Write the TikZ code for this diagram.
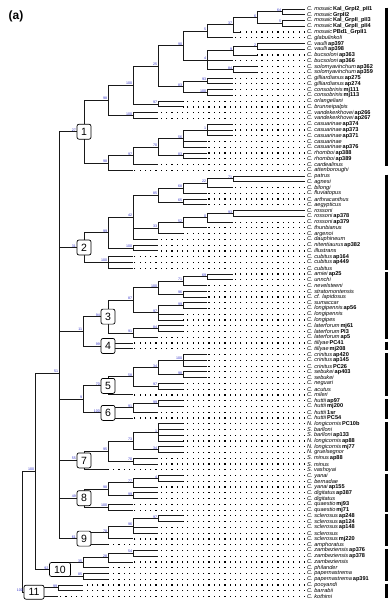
\documentclass[tikz,border=0pt]{standalone}
\usepackage{fontspec}
\setmainfont{Liberation Sans}
\usetikzlibrary{calc}
\definecolor{bsblue}{RGB}{50,50,200}
\newcommand\nd[4]{\coordinate (#1) at (#2,#3); \node[bs] (lab#1) at (#1) {#4};}
\begin{document}
\begin{tikzpicture}[x=1pt,y=-1pt,
  edge/.style={line width=0.9pt,black!90},
  dotl/.style={line width=1.2pt,dash pattern=on 1.2pt off 4.1pt},
  leaflab/.style={anchor=west,inner sep=0pt,font=\fontsize{5.6}{6}\selectfont},
  bs/.style={anchor=south east,inner sep=0.2pt,xshift=-0.4pt,text=bsblue,font=\fontsize{3.6}{4}\selectfont},
  cbox/.style={draw,line width=0.7pt,rounded corners=2pt,fill=white,minimum width=14pt,minimum height=15pt,inner sep=0pt,font=\fontsize{10.5}{12}\selectfont},
  wbox/.style={cbox,minimum width=21pt,minimum height=14pt},
  cbar/.style={line width=2.6pt}]
\useasboundingbox (0,0) rectangle (389,608);
\node[font=\bfseries\fontsize{12}{14}\selectfont,inner sep=0pt] (title) at (16,16) {(a)};
% ---- internal nodes: clade 1
\nd{n1a}{282}{11.9}{64}\nd{n1b}{282}{23.4}{5}\nd{n1c}{257}{17.6}{6}
\nd{n1d}{233}{24.8}{37}\nd{n1e}{207}{31.3}{5}\nd{n1f}{257}{46.4}{2}
\nd{n1g}{233}{50.8}{9}\nd{n1h}{207}{60.1}{4}\nd{n1i}{233}{69.5}{84}
\nd{n1k}{183}{45.7}{90}\nd{n1l}{207}{81.0}{93}\nd{n1m}{207}{92.5}{100}
\nd{n1n}{183}{86.8}{83}\nd{n1o}{158}{66.2}{25}\nd{n1p}{158}{104.0}{97}
\nd{n1q}{133}{85.1}{100}\nd{n1r}{133}{115.6}{100}\nd{n1s}{108}{100.3}{98}
\nd{n1t}{207}{130.0}{1}\nd{n1u}{183}{138.6}{56}\nd{n1v}{183}{155.9}{83}
\nd{n1w}{158}{147.2}{70}\nd{n1x}{133}{155.9}{97}\nd{n1y}{108}{163.1}{98}
% clade 2
\nd{n2a}{233}{178.9}{71}\nd{n2b}{207}{183.2}{22}\nd{n2c}{183}{188.3}{68}
\nd{n2d}{183}{202.0}{65}\nd{n2e}{158}{195.1}{85}\nd{n2f}{233}{213.5}{93}
\nd{n2g}{207}{217.8}{0}\nd{n2h}{183}{222.9}{52}\nd{n2i}{158}{228.2}{33}
\nd{n2j}{133}{217.2}{42}\nd{n2k}{133}{248.0}{100}\nd{n2l}{108}{232.6}{99}
\nd{n2m}{108}{262.4}{100}
% clade 3
\nd{n3a}{207}{276.8}{69}\nd{n3b}{183}{281.2}{71}\nd{n3c}{183}{294.1}{96}
\nd{n3d}{158}{287.6}{100}\nd{n3e}{183}{305.6}{99}\nd{n3f}{158}{312.8}{97}
\nd{n3g}{133}{300.2}{87}\nd{n3h}{158}{328.7}{84}\nd{n3i}{133}{333.0}{91}
\nd{n34}{83}{331.3}{11}
% clade 5, 6
\nd{n5a}{183}{360.4}{100}\nd{n5b}{183}{374.8}{98}\nd{n5c}{158}{367.6}{34}
\nd{n5d}{158}{386.3}{97}\nd{n5e}{133}{376.9}{58}
\nd{n6a}{158}{403.6}{99}\nd{n6b}{133}{407.9}{91}\nd{n56}{83}{399.4}{9}
% clade 7, 8, 9
\nd{n7a}{158}{432.4}{1}\nd{n7b}{158}{449.6}{34}\nd{n7c}{133}{441.0}{73}
\nd{n7d}{133}{461.2}{70}\nd{n7e}{108}{451.1}{95}
\nd{n8a}{158}{478.4}{4}\nd{n8b}{133}{482.8}{77}\nd{n8c}{133}{495.7}{99}
\nd{n8d}{108}{489.2}{98}\nd{n8e}{108}{507.2}{100}
\nd{n9a}{158}{518.8}{97}\nd{n9b}{133}{526.0}{96}\nd{n9c}{108}{532.5}{78}
% clade 10, 11, backbone
\nd{n10a}{133}{553.3}{54}\nd{n10b}{108}{557.6}{28}\nd{n10c}{83}{562.7}{35}
\nd{n10d}{83}{576.4}{85}\nd{n11a}{58}{587.9}{99}
\nd{bb}{59}{373.0}{51}\nd{nA}{35}{471.0}{100}
\coordinate (root) at (22,531.6);
% box positions
\coordinate (b1) at (84,131.7); \coordinate (b2) at (84,247.5);
\coordinate (b3) at (108,316.6); \coordinate (b4) at (108,346.0);
\coordinate (b5) at (108,385.9); \coordinate (b6) at (108,412.9);
\coordinate (b7) at (84,460.4); \coordinate (b8) at (84,498.2);
\coordinate (b9) at (84,538.6); \coordinate (b10) at (60,569.5);
\coordinate (b11) at (34,592.2);
% ---- leaves
\foreach \i/\tx/\pa/\nm/\cd in {
1/305/n1a/C. mosaic/Kal\_GrpI2\_pII1,
2/305/n1a/C. mosaic/GrpII2,
3/305/n1b/C. mosaic/Kal\_GrpII\_pII3,
4/305/n1b/C. mosaic/Kal\_GrpII\_pII4,
5/240/n1d/C. mosaic/PBd1\_GrpII1,
6/233/n1e/C. glabulinkoli/{},
7/305/n1f/C. vaulli/ap397,
8/305/n1f/C. vaulli/ap398,
9/257/n1g/C. bucsoloni/ap363,
10/233/n1h/C. bucsoloni/ap366,
11/257/n1i/C. solomyavinchum/ap362,
12/257/n1i/C. solomyavinchum/ap359,
13/233/n1l/C. gilliardianus/ap275,
14/233/n1l/C. gilliardianus/ap274,
15/233/n1m/C. consobrinis/mj111,
16/233/n1m/C. consobrinis/mj113,
17/183/n1p/C. orlangeliani/{},
18/183/n1p/C. brunneipalpis/{},
19/158/n1r/C. vandekerkhovei/ap266,
20/158/n1r/C. vandekerkhovei/ap267,
21/233/n1t/C. casuarinae/ap374,
22/233/n1t/C. casuarinae/ap373,
23/233/n1t/C. casuarinae/ap371,
24/207/n1u/C. casuarinae/{},
25/207/n1u/C. casuarinae/ap376,
26/207/n1v/C. rhomboi/ap388,
27/207/n1v/C. rhomboi/ap389,
28/158/n1x/C. cardealinus/{},
29/133/n1y/C. attenboroughi/{},
30/305/n2a/C. patrus/{},
31/305/n2a/C. agnesi/{},
32/233/n2b/C. bilongi/{},
33/207/n2c/C. fluviatopus/{},
34/207/n2d/C. arthracanthus/{},
35/207/n2d/C. aegypticus/{},
36/305/n2f/C. rossoni/{},
37/305/n2f/C. rossoni/ap378,
38/233/n2g/C. rossoni/ap379,
39/207/n2h/C. thunbianus/{},
40/183/n2i/C. argenoi/{},
41/158/n2j/C. dauphineum/{},
42/158/n2k/C. nitentiaurus/ap382,
43/158/n2k/C. illustrans/{},
44/133/n2m/C. cubitus/ap164,
45/133/n2m/C. cubitus/ap449,
46/133/n2m/C. cubitus/{},
47/233/n3a/C. amiei/ap25,
48/233/n3a/C. unnchi/{},
49/207/n3b/C. nevelsteeni/{},
50/207/n3c/C. stratomontensis/{},
51/207/n3c/C. cf. lapidosus/{},
52/207/n3e/C. sumaccar/{},
53/207/n3e/C. longipennis/ap56,
54/183/n3f/C. longipennis/{},
55/183/n3f/C. longipes/{},
56/183/n3h/C. laterforum/mj61,
57/183/n3h/C. laterforum/PI3,
58/158/n3i/C. laterforum/ap5,
59/133/b4/C. tillyae/PC41,
60/133/b4/C. tillyae/mj208,
61/207/n5a/C. crinitus/ap420,
62/207/n5a/C. crinitus/ap145,
63/207/n5a/C. crinitus/PC26,
64/207/n5b/C. sebukei/ap403,
65/207/n5b/C. sebukei/{},
66/183/n5d/C. neguari/{},
67/183/n5d/C. acutus/{},
68/133/b5/C. mileri/{},
69/183/n6a/C. huttii/ap97,
70/183/n6a/C. huttii/mj200,
71/158/n6b/C. huttii/1sr,
72/133/b6/C. huttii/PC54,
73/183/n7a/N. longicornis/PC10b,
74/183/n7a/S. barlloni/{},
75/183/n7a/S. barlloni/ap133,
76/183/n7a/N. longicornis/ap88,
77/183/n7b/N. longicornis/mj77,
78/183/n7b/N. gruelsegnor/{},
79/158/n7d/S. minus/ap88,
80/158/n7d/S. minus/{},
81/108/b7/S. vashoyai/{},
82/183/n8a/C. yanai/{},
83/183/n8a/C. bernadae/{},
84/158/n8b/C. yanai/ap155,
85/158/n8c/C. digitatus/ap387,
86/158/n8c/C. digitatus/{},
87/133/n8e/C. quaestio/mj93,
88/133/n8e/C. quaestio/mj71,
89/183/n9a/C. sclerosus/ap248,
90/183/n9a/C. sclerosus/ap124,
91/158/n9b/C. sclerosus/ap148,
92/158/n9b/C. sclerosus/{},
93/133/n9c/C. sclerosus/mj220,
94/108/b9/C. amphoratus/{},
95/158/n10a/C. zambeziensis/ap376,
96/158/n10a/C. zambeziensis/ap378,
97/133/n10b/C. zambeziensis/{},
98/108/n10c/C. philander/{},
99/108/n10d/C. papernastrema/{},
100/108/n10d/C. papernastrema/ap391,
101/83/n11a/C. pooyandi/{},
102/83/n11a/C. barrabii/{},
103/58/b11/C. kothimi/{}}{
  \pgfmathsetmacro\yy{9+(\i-1)*5.76}
  \coordinate (L\i) at (\tx,\yy);
  \coordinate (E\i) at (305,\yy);
  \node[leaflab] (T\i) at (307,\yy) {\textit{\nm}\,\textbf{\cd}};
  \draw[edge] (\pa) |- (L\i);
  \ifdim\tx pt<303pt \draw[dotl] (E\i) -- (L\i); \fi
}
% ---- internal edges
\foreach \p/\c in {n1c/n1a,n1c/n1b,n1d/n1c,n1e/n1d,n1g/n1f,n1h/n1g,n1h/n1i,
  n1k/n1e,n1k/n1h,n1n/n1l,n1n/n1m,n1o/n1k,n1o/n1n,n1q/n1o,n1q/n1p,n1s/n1q,n1s/n1r,
  n1u/n1t,n1w/n1u,n1w/n1v,n1x/n1w,n1y/n1x,b1/n1s,b1/n1y,
  n2b/n2a,n2c/n2b,n2e/n2c,n2e/n2d,n2g/n2f,n2h/n2g,n2i/n2h,n2j/n2e,n2j/n2i,
  n2l/n2j,n2l/n2k,b2/n2l,b2/n2m,
  n3b/n3a,n3d/n3b,n3d/n3c,n3f/n3e,n3g/n3d,n3g/n3f,n3i/n3h,b3/n3g,b3/n3i,n34/b3,n34/b4,
  n5c/n5a,n5c/n5b,n5e/n5c,n5e/n5d,b5/n5e,n6b/n6a,b6/n6b,n56/b5,n56/b6,
  n7c/n7a,n7c/n7b,n7e/n7c,n7e/n7d,b7/n7e,
  n8b/n8a,n8d/n8b,n8d/n8c,b8/n8d,b8/n8e,
  n9b/n9a,n9c/n9b,b9/n9c,
  n10b/n10a,n10c/n10b,b10/n10c,b10/n10d,b11/n11a,
  bb/b1,bb/b2,bb/n34,bb/n56,bb/b7,bb/b8,bb/b9,nA/bb,nA/b10,root/nA,root/b11}{
  \draw[edge] (\p) |- (\c);
}
% ---- clade boxes
\foreach \k/\v in {1/27,2/31,3/94,4/99,5/70,6/100,7/55,8/49,9/61}{
  \node[cbox] (B\k) at (b\k) {\k};
  \node[bs] (lB\k) at (B\k.west) {\v};
}
\node[wbox] (B10) at (b10) {10}; \node[bs] (lB10) at (B10.west) {92};
\node[wbox,minimum width=20pt] (B11) at (b11) {11}; \node[bs] (lB11) at (B11.west) {100};
% ---- clade bars
\foreach \a/\b in {1/28,30/46,47/58,59/60,61/68,69/72,73/81,82/88,89/94,95/100,101/103}{
  \draw[cbar] ($(E\a)+(81.5,-1.5)$) -- ($(E\b)+(81.5,1.5)$);
}
\end{tikzpicture}
\end{document}
